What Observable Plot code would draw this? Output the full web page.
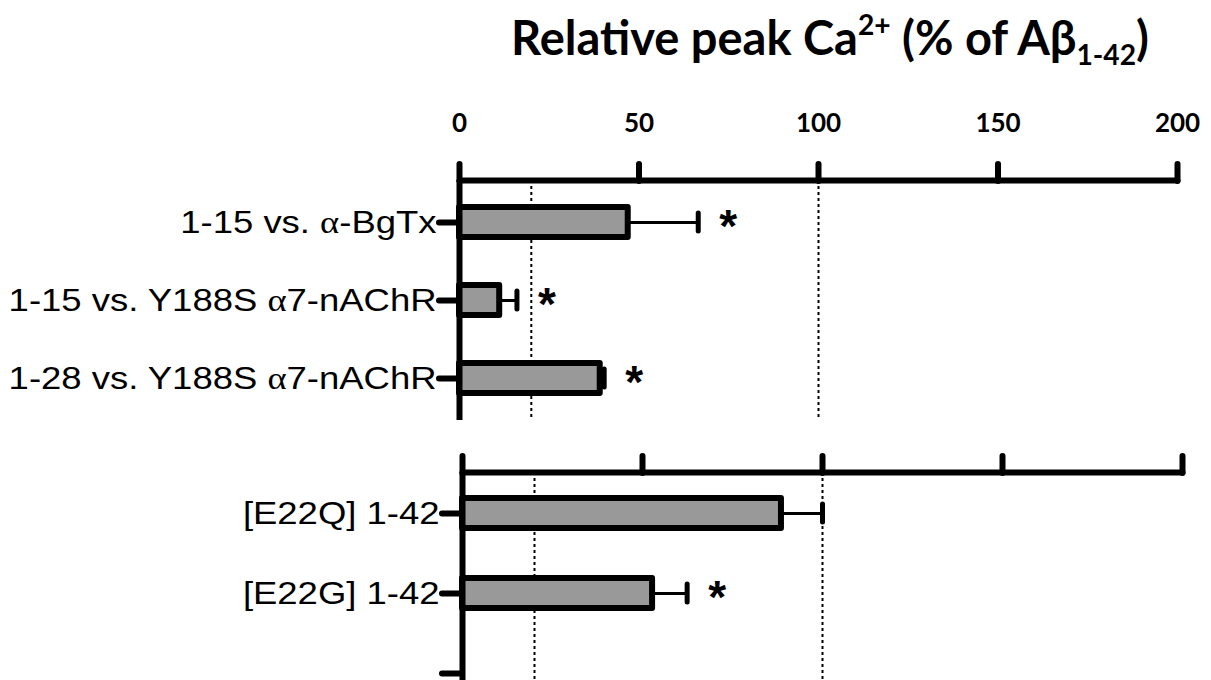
<!DOCTYPE html>
<html><head><meta charset="utf-8">
<script src="https://cdn.jsdelivr.net/npm/d3@7"></script>
<script src="https://cdn.jsdelivr.net/npm/@observablehq/plot@0.6"></script>
<style>
html,body{margin:0;padding:0;background:#fff;overflow:hidden;}
#wrap{position:relative;width:1211px;height:680px;}
#title{position:absolute;top:12px;left:830px;transform:translateX(-50%);white-space:nowrap;font-family:Lato,sans-serif;font-weight:700;font-size:47px;line-height:50px;color:#000;}
#title sup{font-size:0.6em;vertical-align:0.72em;line-height:0}
#title sub{font-size:0.6em;vertical-align:-0.35em;line-height:0}
#p1{position:absolute;top:80px;left:0}
#p2{position:absolute;top:430px;left:0}
</style></head>
<body><div id="wrap"><div id="title">Relative peak Ca<sup>2+</sup> (% of Aβ<sub>1-42</sub>)</div><div id="p1"></div><div id="p2"></div></div>
<script>
// Data
const topLabels = ["1-15 vs. α-BgTx", "1-15 vs. Y188S α7-nAChR", "1-28 vs. Y188S α7-nAChR"];
const topValues = [47, 11.2, 39.2];
const topErrors = [66.5, 16, 40.3];
const topSig = [true, true, true];

const bottomLabels = ["[E22Q] 1-42", "[E22G] 1-42", ""];
const bottomValues = [88.6, 52.8];
const bottomErrors = [100, 62.4];
const bottomSig = [false, true];

const xTicks = [0, 50, 100, 150, 200];
const refLines = [20, 100];

const topData = topValues.map((v, i) => ({label: topLabels[i], value: v, err: topErrors[i], sig: topSig[i]}));
const bottomData = bottomValues.map((v, i) => ({label: bottomLabels[i], value: v, err: bottomErrors[i], sig: bottomSig[i]}));

function marks(data, showTickLabels) {
  return [
    Plot.ruleX(refLines, {strokeDasharray: "3,3", strokeWidth: 2}),
    Plot.ruleY(data, {y: "label", x1: "value", x2: "err", strokeWidth: 3}),
    Plot.tickX(data, {x: "err", y: "label", strokeWidth: 5, insetTop: 6, insetBottom: 6, strokeLinecap: "round"}),
    Plot.barX(data, {x: "value", y: "label", fill: "#999999", stroke: "black", strokeWidth: 6, strokeLinejoin: "round"}),
    Plot.text(data.filter(d => d.sig), {x: "err", y: "label", text: () => "*", dx: 30, dy: 5, fontSize: 46, fontWeight: "bold", fontFamily: "Liberation Sans"}),
    Plot.ruleX([0], {strokeWidth: 6}),
    Plot.frame({anchor: "top", strokeWidth: 6, strokeLinecap: "round"}),
    Plot.axisX(xTicks, {anchor: "top", tickSize: 17, tickPadding: 32, strokeWidth: 6, strokeLinecap: "round",
      fontSize: 26, fontWeight: "bold", fontFamily: "Lato", label: null,
      tickFormat: showTickLabels ? (d => String(d)) : (() => "")}),
    Plot.axisY({anchor: "left", tickSize: 20, tickPadding: 3, strokeWidth: 6, strokeLinecap: "round",
      fontSize: 32, fontFamily: "Liberation Sans", label: null, tickFormat: d => d})
  ];
}

const p1 = Plot.plot({
  width: 1211, height: 350,
  marginTop: 100, marginBottom: 10, marginLeft: 459, marginRight: 34,
  style: {color: "black", background: "white", overflow: "visible"},
  x: {domain: [0, 200], axis: null},
  y: {domain: topLabels, paddingInner: 0.62, paddingOuter: 0.34, axis: null},
  marks: marks(topData, true)
});

const p2 = Plot.plot({
  width: 1211, height: 250,
  marginTop: 42, marginBottom: 0, marginLeft: 462, marginRight: 29,
  style: {color: "black", background: "transparent", overflow: "visible"},
  x: {domain: [0, 200], axis: null},
  y: {domain: bottomLabels, range: [42, 283.5], paddingInner: 0.62, paddingOuter: 0.31, axis: null},
  marks: marks(bottomData, false)
});

document.getElementById("p1").appendChild(p1);
document.getElementById("p2").appendChild(p2);

function fixLabels(svg, s) {
  svg.querySelectorAll('[aria-label="y-axis tick label"] text').forEach(t => {
    const str = t.textContent;
    if (!str) return;
    if (str.includes("α")) {
      t.textContent = "";
      str.split(/(α)/).forEach(part => {
        if (!part) return;
        const ts = document.createElementNS("http://www.w3.org/2000/svg", "tspan");
        if (part === "α") ts.setAttribute("font-family", "Liberation Serif");
        ts.textContent = part;
        t.appendChild(ts);
      });
    }
    const b = t.getBBox();
    const R = b.x + b.width;
    const tr = t.getAttribute("transform") || "";
    t.setAttribute("transform", `${tr} translate(${R},0) scale(${s},1) translate(${-R},0)`);
  });
}
fixLabels(p1, 1.14);
fixLabels(p2, 1.14);
</script>
</body></html>
